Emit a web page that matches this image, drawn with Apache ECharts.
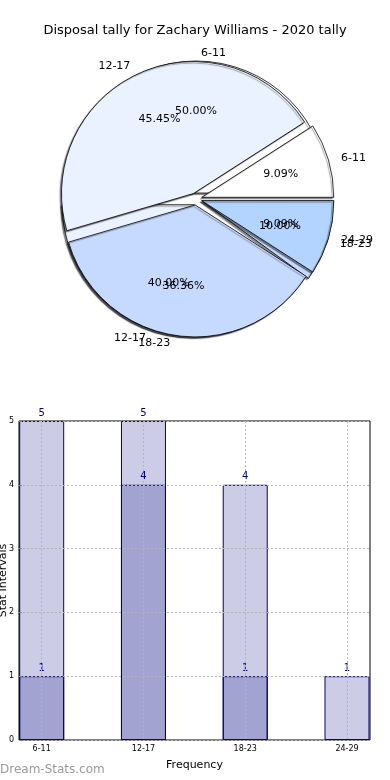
<!DOCTYPE html>
<html><head><meta charset="utf-8">
<script src="https://cdn.jsdelivr.net/npm/echarts@6/dist/echarts.min.js"></script>
<style>html,body{margin:0;padding:0;background:#fff}#c{width:390px;height:780px}</style>
</head><body><div id="c"></div>
<script>
const titleText = 'Disposal tally for Zachary Williams - 2020 tally';
const pieTopNames = ['6-11', '12-17', '18-23', '24-29'];
const pieTopValues = [1, 5, 4, 1];
const pieUnderNames = ['6-11', '12-17', '18-23'];
const pieUnderValues = [5, 4, 1];
const barCategories = ['6-11', '12-17', '18-23', '24-29'];
const barLight = [5, 5, 4, 1];
const barDark = [1, 4, 1, null];
const yTicks = [0, 1, 2, 3, 4, 5];

const FONT = 'DejaVu Sans';
const sliceColors = ['#ffffff', '#ebf2ff', '#c6d9ff', '#b3d4ff'];
const R = 132, CX = 196, CY = 199, OFF = 6;

function sliceData(names, values, transparent) {
  return names.map((n, i) => ({
    name: n, value: values[i], selected: true,
    itemStyle: transparent
      ? { color: 'rgba(0,0,0,0)', borderWidth: 0, shadowBlur: 0, shadowColor: 'rgba(0,0,0,0)' }
      : { color: sliceColors[i % sliceColors.length] }
  }));
}
function bodySeries(names, values) {
  return {
    type: 'pie', center: [CX, CY], radius: [0, R], startAngle: 0, clockwise: false,
    selectedMode: 'multiple', selectedOffset: OFF, avoidLabelOverlap: false,
    animation: false, emphasis: { disabled: true },
    labelLayout: { hideOverlap: false },
    itemStyle: { borderColor: '#000', borderWidth: 0.8, shadowColor: 'rgba(0,0,0,0.45)', shadowBlur: 1, shadowOffsetX: -1.5, shadowOffsetY: 1.5 },
    label: { show: true, position: 'outside', color: '#000', fontSize: 11, fontFamily: FONT, formatter: '{b}' },
    labelLine: { show: false, length: 8, length2: 0 },
    data: sliceData(names, values, false)
  };
}
function pctSeries(names, values) {
  const total = values.reduce((a, b) => a + b, 0);
  return {
    type: 'pie', center: [CX, CY], radius: [0, R * 1.2], startAngle: 0, clockwise: false,
    selectedMode: 'multiple', selectedOffset: OFF, avoidLabelOverlap: false, silent: true,
    animation: false, emphasis: { disabled: true },
    labelLayout: { hideOverlap: false },
    label: { show: true, position: 'inside', color: '#000', fontSize: 11, fontFamily: FONT,
      formatter: p => (p.value / total * 100).toFixed(2) + '%' },
    labelLine: { show: false },
    data: sliceData(names, values, true)
  };
}

const chart = echarts.init(document.getElementById('c'), null, { renderer: 'canvas' });
const barStyle = { color: 'rgba(0,0,128,0.2)', borderColor: '#000080', borderWidth: 1 };
const barLabel = { show: true, position: 'top', color: '#000080', fontSize: 10, fontFamily: FONT, distance: 3 };
const gridLine = { show: true, lineStyle: { type: [2, 2], color: '#b4b4b4', width: 1 } };
chart.setOption({
  backgroundColor: '#fff',
  animation: false,
  title: { text: titleText, left: 'center', top: 19, textStyle: { fontSize: 13, fontWeight: 'normal', color: '#000', fontFamily: FONT } },
  grid: [
    { left: 19, right: 20, top: 421, bottom: 40, show: true, borderColor: '#000', borderWidth: 1, backgroundColor: 'transparent', containLabel: false, outerBoundsMode: 'none' },
    { left: 41.7, right: 43, top: 421, bottom: 40, containLabel: false, outerBoundsMode: 'none' }
  ],
  xAxis: [
    { gridIndex: 0, type: 'value', min: 0, max: 1, axisLine: { show: false }, axisTick: { show: false }, axisLabel: { show: false }, splitLine: { show: false },
      name: 'Frequency', nameLocation: 'middle', nameGap: 20, nameMoveOverlap: false, nameTextStyle: { fontSize: 11, color: '#000', fontFamily: FONT } },
    { gridIndex: 1, type: 'category', data: barCategories, boundaryGap: false, z: 3,
      axisLine: { show: false }, axisTick: { show: false },
      axisLabel: { fontSize: 8, color: '#000', fontFamily: FONT, margin: 5 },
      splitLine: gridLine }
  ],
  yAxis: [
    { gridIndex: 0, type: 'value', min: yTicks[0], max: yTicks[yTicks.length - 1], interval: yTicks[1] - yTicks[0], z: 3,
      axisLine: { show: false }, axisTick: { show: true, inside: true, length: 3, lineStyle: { color: '#888' } },
      axisLabel: { fontSize: 8, color: '#000', fontFamily: FONT, margin: 5 },
      splitLine: gridLine,
      name: 'Stat Intervals', nameLocation: 'middle', nameGap: 10, nameMoveOverlap: false, nameTextStyle: { fontSize: 11, color: '#000', fontFamily: FONT } },
    { gridIndex: 1, type: 'value', min: yTicks[0], max: yTicks[yTicks.length - 1], show: false }
  ],
  graphic: [
    { type: 'text', left: 0, top: 764, style: { text: 'Dream-Stats.com', fill: '#999', font: '12px "DejaVu Sans"' } }
  ],
  series: [
    bodySeries(pieUnderNames, pieUnderValues),
    bodySeries(pieTopNames, pieTopValues),
    pctSeries(pieUnderNames, pieUnderValues),
    pctSeries(pieTopNames, pieTopValues),
    { type: 'bar', xAxisIndex: 1, yAxisIndex: 1, data: barLight, barWidth: 45, barGap: '-100%', clip: false,
      itemStyle: barStyle, label: barLabel },
    { type: 'bar', xAxisIndex: 1, yAxisIndex: 1, data: barDark, barWidth: 45, barGap: '-100%', clip: false,
      itemStyle: barStyle, label: barLabel }
  ]
});
</script></body></html>
